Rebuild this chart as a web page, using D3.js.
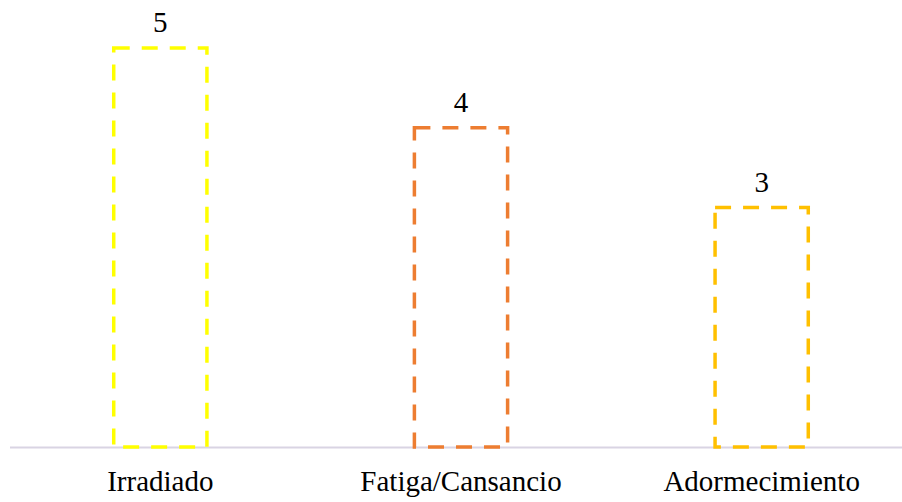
<!DOCTYPE html>
<html>
<head>
<meta charset="utf-8">
<script src="https://cdn.jsdelivr.net/npm/d3@7"></script>
<style>
  html, body { margin: 0; padding: 0; background: #fff; }
  svg { display: block; }
</style>
</head>
<body>
<svg id="chart" width="902" height="502"></svg>
<script>
const categories = ["Irradiado", "Fatiga/Cansancio", "Adormecimiento"];
const values = [5, 4, 3];
const colors = ["#FFFF00", "#ED7D31", "#FFC000"];

const svg = d3.select("#chart");
const baseY = 447;

const x = d3.scaleBand()
  .domain(categories)
  .range([10, 912])
  .paddingInner(0.69)
  .paddingOuter(0.345);

const y = d3.scaleLinear()
  .domain([0, 5])
  .range([baseY, 48]);

// baseline axis
svg.append("line")
  .attr("x1", 10).attr("x2", 902)
  .attr("y1", baseY + 0.5).attr("y2", baseY + 0.5)
  .attr("stroke", "#D9D4E3")
  .attr("stroke-width", 2);

// dashed outline bars
svg.selectAll("rect.bar")
  .data(categories)
  .join("rect")
  .attr("class", "bar")
  .attr("x", d => x(d))
  .attr("width", x.bandwidth())
  .attr("y", (d, i) => y(values[i]))
  .attr("height", (d, i) => y(0) - y(values[i]))
  .attr("fill", "none")
  .attr("stroke", (d, i) => colors[i])
  .attr("stroke-width", 3.5)
  .attr("stroke-dasharray", "16 12");

const fontFamily = "'Liberation Serif', 'Times New Roman', serif";

// value labels
svg.selectAll("text.val")
  .data(categories)
  .join("text")
  .attr("class", "val")
  .attr("x", d => x(d) + x.bandwidth() / 2)
  .attr("y", (d, i) => y(values[i]) - 16)
  .attr("text-anchor", "middle")
  .attr("font-family", fontFamily)
  .attr("font-size", 29)
  .attr("fill", "#000")
  .text((d, i) => values[i]);

// category labels
svg.selectAll("text.cat")
  .data(categories)
  .join("text")
  .attr("class", "cat")
  .attr("x", d => x(d) + x.bandwidth() / 2)
  .attr("y", 491)
  .attr("text-anchor", "middle")
  .attr("font-family", fontFamily)
  .attr("font-size", 29)
  .attr("fill", "#000")
  .text(d => d);
</script>
</body>
</html>
